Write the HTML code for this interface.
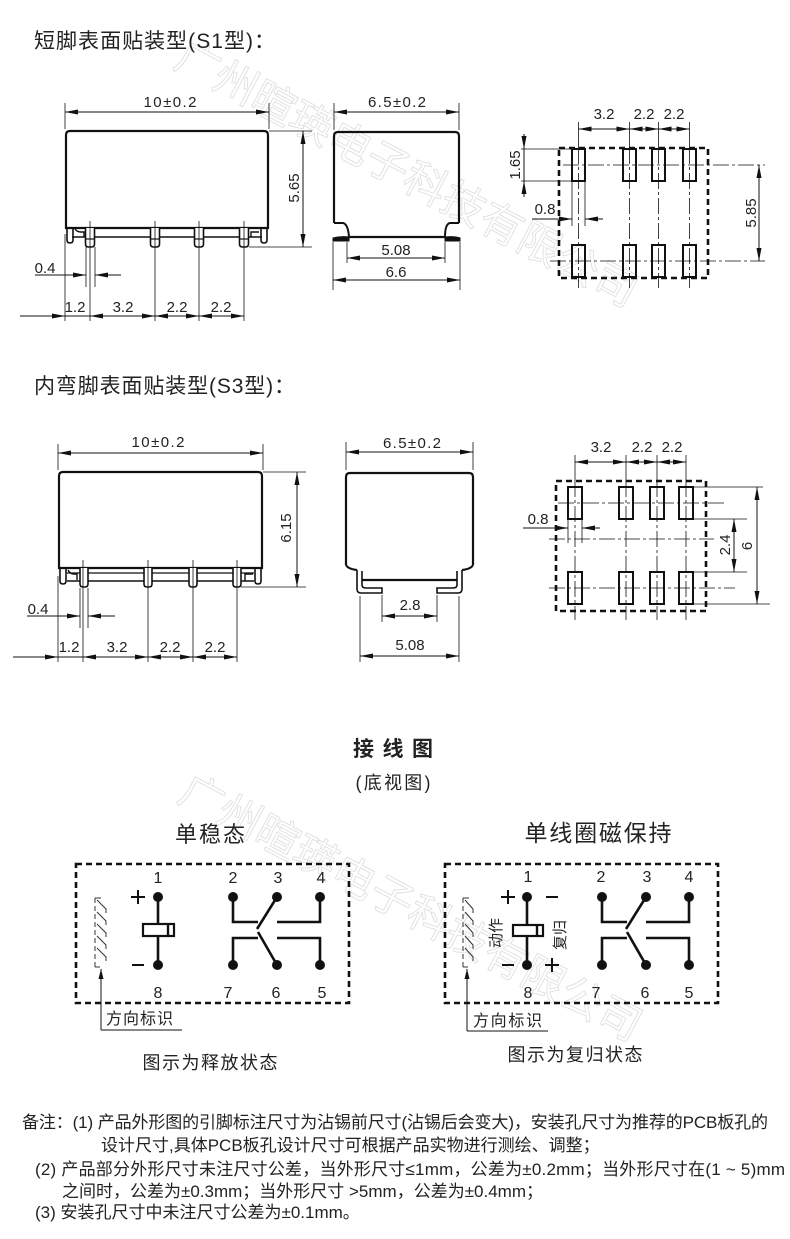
<!DOCTYPE html>
<html><head><meta charset="utf-8">
<style>
html,body{margin:0;padding:0;background:#fff;}
svg{display:block;}
text{font-family:"Liberation Sans","Noto Sans CJK SC",sans-serif;fill:#222;}
</style></head><body>
<svg width="790" height="1239" viewBox="0 0 790 1239" xmlns="http://www.w3.org/2000/svg">
<defs>
<marker id="a" viewBox="0 0 13 5" refX="13" refY="2.5" markerWidth="13" markerHeight="5" markerUnits="userSpaceOnUse" orient="auto-start-reverse"><path d="M0,0 L13,2.5 L0,5 z" fill="#111"/></marker>
<marker id="b" viewBox="0 0 10 5" refX="10" refY="2.5" markerWidth="10" markerHeight="5" markerUnits="userSpaceOnUse" orient="auto-start-reverse"><path d="M0,0 L10,2.5 L0,5 z" fill="#111"/></marker>
</defs>

<!-- watermark -->
<text transform="translate(172,66) rotate(28)" font-size="43" style="fill:none;stroke:#e0e0e0;stroke-width:0.9">广州暄瑛电子科技有限公司</text>
<text transform="translate(176,800) rotate(28)" font-size="43" style="fill:none;stroke:#e0e0e0;stroke-width:0.9">广州暄瑛电子科技有限公司</text>

<!-- headings -->
<text x="34" y="48" font-size="21" textLength="241">短脚表面贴装型(S1型)：</text>
<text x="34" y="393" font-size="21" textLength="261">内弯脚表面贴装型(S3型)：</text>

<!-- ================= S1 SIDE VIEW ================= -->
<g stroke="#111" fill="none" stroke-width="1">
  <line x1="65" y1="103" x2="65" y2="129" stroke-width="0.8"/>
  <line x1="269" y1="103" x2="269" y2="129" stroke-width="0.8"/>
  <line x1="65" y1="112" x2="269" y2="112" marker-start="url(#a)" marker-end="url(#a)"/>
  <path d="M66,228 L66,135 Q66,131 70,131 L264,131 Q268,131 268,135 L268,228 Z" stroke-width="2.2"/>
  <line x1="72" y1="237" x2="262" y2="237" stroke-width="1.6"/>
  <path d="M67,228 L67,240 Q67,243 70,243 Q73,243 73,240 L73,229" stroke-width="1.6"/>
  <path d="M75,229 Q77,232 81,232 L84,232 L84,237" stroke-width="1.4"/>
  <path d="M267,228 L267,240 Q267,243 264,243 Q261,243 261,240 L261,229" stroke-width="1.6"/>
  <path d="M251,237 L251,232 L259,232" stroke-width="1.4"/>
  <g transform="translate(90,0)"><path d="M-4.5,228 L-4.5,244 Q-4.5,247 -1.5,247 L1.5,247 Q4.5,247 4.5,244 L4.5,228" fill="#fff" stroke-width="1.6"/><line x1="-4.5" y1="239" x2="4.5" y2="239" stroke-width="1.2"/></g>
  <g transform="translate(155,0)"><path d="M-4.5,228 L-4.5,244 Q-4.5,247 -1.5,247 L1.5,247 Q4.5,247 4.5,244 L4.5,228" fill="#fff" stroke-width="1.6"/><line x1="-4.5" y1="239" x2="4.5" y2="239" stroke-width="1.2"/></g>
  <g transform="translate(199,0)"><path d="M-4.5,228 L-4.5,244 Q-4.5,247 -1.5,247 L1.5,247 Q4.5,247 4.5,244 L4.5,228" fill="#fff" stroke-width="1.6"/><line x1="-4.5" y1="239" x2="4.5" y2="239" stroke-width="1.2"/></g>
  <g transform="translate(244,0)"><path d="M-4.5,228 L-4.5,244 Q-4.5,247 -1.5,247 L1.5,247 Q4.5,247 4.5,244 L4.5,228" fill="#fff" stroke-width="1.6"/><line x1="-4.5" y1="239" x2="4.5" y2="239" stroke-width="1.2"/></g>
  <!-- extension lines -->
  <g stroke-width="0.8">
    <line x1="65" y1="234" x2="65" y2="321"/>
    <line x1="90" y1="221" x2="90" y2="321"/>
    <line x1="155" y1="221" x2="155" y2="321"/>
    <line x1="199" y1="221" x2="199" y2="321"/>
    <line x1="244" y1="221" x2="244" y2="321"/>
    <line x1="86" y1="247" x2="86" y2="287"/>
    <line x1="95" y1="247" x2="95" y2="287"/>
    <line x1="269" y1="131" x2="312" y2="131"/>
    <line x1="249" y1="247" x2="312" y2="247"/>
  </g>
  <line x1="35" y1="275" x2="86" y2="275" marker-end="url(#a)"/>
  <line x1="121" y1="275" x2="95" y2="275" marker-end="url(#a)"/>
  <line x1="20" y1="316" x2="65" y2="316" marker-end="url(#a)"/>
  <line x1="65" y1="316" x2="90" y2="316"/>
  <line x1="90" y1="316" x2="155" y2="316" marker-start="url(#a)" marker-end="url(#a)"/>
  <line x1="155" y1="316" x2="199" y2="316" marker-start="url(#a)" marker-end="url(#a)"/>
  <line x1="199" y1="316" x2="244" y2="316" marker-start="url(#a)" marker-end="url(#a)"/>
  <line x1="303" y1="131" x2="303" y2="247" marker-start="url(#a)" marker-end="url(#a)"/>
</g>
<g font-size="15" text-anchor="middle">
  <text x="170" y="107" textLength="53">10±0.2</text>
  <text x="45" y="273">0.4</text>
  <text x="75" y="312">1.2</text>
  <text x="123" y="312">3.2</text>
  <text x="177" y="312">2.2</text>
  <text x="221" y="312">2.2</text>
  <text transform="translate(299,188) rotate(-90)">5.65</text>
</g>

<!-- ================= S1 END VIEW ================= -->
<g stroke="#111" fill="none" stroke-width="1">
  <line x1="334" y1="103" x2="334" y2="130" stroke-width="0.8"/>
  <line x1="459" y1="103" x2="459" y2="130" stroke-width="0.8"/>
  <line x1="334" y1="112" x2="459" y2="112" marker-start="url(#a)" marker-end="url(#a)"/>
  <path d="M334,223 L334,136 Q334,132 338,132 L455,132 Q459,132 459,136 L459,223" stroke-width="2.2"/>
  <path d="M334,223 L343,223 Q348,224 349,237" stroke-width="2"/>
  <path d="M459,223 L450,223 Q445,224 445,237" stroke-width="2"/>
  <line x1="349" y1="237" x2="445" y2="237" stroke-width="2.2"/>
  <path d="M349,237 Q340,236 333,238 L333,241 L349,241 Z" fill="#111"/>
  <path d="M445,237 Q454,236 460,238 L460,241 L445,241 Z" fill="#111"/>
  <g stroke-width="0.8">
    <line x1="347" y1="242" x2="347" y2="263"/>
    <line x1="445" y1="242" x2="445" y2="263"/>
    <line x1="333" y1="242" x2="333" y2="290"/>
    <line x1="460" y1="242" x2="460" y2="290"/>
  </g>
  <line x1="347" y1="258" x2="445" y2="258" marker-start="url(#a)" marker-end="url(#a)"/>
  <line x1="333" y1="280" x2="460" y2="280" marker-start="url(#a)" marker-end="url(#a)"/>
</g>
<g font-size="15" text-anchor="middle">
  <text x="397" y="107" textLength="58">6.5±0.2</text>
  <text x="396" y="255">5.08</text>
  <text x="396" y="277">6.6</text>
</g>

<!-- ================= S1 FOOTPRINT ================= -->
<g stroke="#111" fill="none" stroke-width="1">
  <g stroke-width="0.8">
    <line x1="578.5" y1="122" x2="578.5" y2="148"/>
    <line x1="629.5" y1="122" x2="629.5" y2="148"/>
    <line x1="658.5" y1="122" x2="658.5" y2="148"/>
    <line x1="689.5" y1="122" x2="689.5" y2="148"/>
    <line x1="578.5" y1="278" x2="578.5" y2="288"/>
    <line x1="629.5" y1="278" x2="629.5" y2="288"/>
    <line x1="658.5" y1="278" x2="658.5" y2="288"/>
    <line x1="689.5" y1="278" x2="689.5" y2="288"/>
  </g>
  <g stroke-width="0.8" stroke-dasharray="16,3,3,3">
    <line x1="578.5" y1="148" x2="578.5" y2="278"/>
    <line x1="629.5" y1="148" x2="629.5" y2="278"/>
    <line x1="658.5" y1="148" x2="658.5" y2="278"/>
    <line x1="689.5" y1="148" x2="689.5" y2="278"/>
    <line x1="563" y1="165" x2="765" y2="165"/>
    <line x1="550" y1="261" x2="765" y2="261"/>
  </g>
  <rect x="559" y="148" width="149" height="130" stroke-width="2.6" stroke-dasharray="6,4"/>
  <g stroke-width="2">
    <rect x="572" y="149" width="13" height="32"/>
    <rect x="623" y="149" width="13" height="32"/>
    <rect x="652" y="149" width="13" height="32"/>
    <rect x="683" y="149" width="13" height="32"/>
    <rect x="572" y="245" width="13" height="32"/>
    <rect x="623" y="245" width="13" height="32"/>
    <rect x="652" y="245" width="13" height="32"/>
    <rect x="683" y="245" width="13" height="32"/>
  </g>
  <line x1="578.5" y1="129" x2="629.5" y2="129" marker-start="url(#a)" marker-end="url(#a)"/>
  <line x1="629.5" y1="129" x2="658.5" y2="129" marker-start="url(#a)" marker-end="url(#a)"/>
  <line x1="658.5" y1="129" x2="689.5" y2="129" marker-start="url(#a)" marker-end="url(#a)"/>
  <line x1="759" y1="165" x2="759" y2="261" marker-start="url(#a)" marker-end="url(#a)"/>
  <g stroke-width="0.8">
    <line x1="521" y1="149" x2="572" y2="149"/>
    <line x1="521" y1="181" x2="572" y2="181"/>
    <line x1="572" y1="181" x2="572" y2="226"/>
    <line x1="585" y1="181" x2="585" y2="226"/>
  </g>
  <line x1="524" y1="134" x2="524" y2="197"/>
  <line x1="524" y1="134" x2="524" y2="149" marker-end="url(#a)"/>
  <line x1="524" y1="197" x2="524" y2="181" marker-end="url(#a)"/>
  <line x1="532" y1="219" x2="572" y2="219" marker-end="url(#a)"/>
  <line x1="603" y1="219" x2="585" y2="219" marker-end="url(#a)"/>
</g>
<g font-size="15" text-anchor="middle">
  <text x="604" y="119">3.2</text>
  <text x="644" y="119">2.2</text>
  <text x="674" y="119">2.2</text>
  <text x="545" y="214">0.8</text>
  <text transform="translate(520,165) rotate(-90)">1.65</text>
  <text transform="translate(756,213) rotate(-90)">5.85</text>
</g>

<!-- ================= S3 SIDE VIEW ================= -->
<g stroke="#111" fill="none" stroke-width="1">
  <line x1="58" y1="444" x2="58" y2="470" stroke-width="0.8"/>
  <line x1="263" y1="444" x2="263" y2="470" stroke-width="0.8"/>
  <line x1="58" y1="453" x2="263" y2="453" marker-start="url(#a)" marker-end="url(#a)"/>
  <path d="M59,568 L59,476 Q59,472 63,472 L258,472 Q262,472 262,476 L262,568 Z" stroke-width="2.2"/>
  <line x1="67" y1="573" x2="254" y2="573" stroke-width="1.3"/>
  <line x1="67" y1="581" x2="254" y2="581" stroke-width="1.6"/>
  <path d="M60,568 L60,581 Q60,584 63,584 Q66,584 66,581 L66,569" stroke-width="1.6"/>
  <path d="M68,570 Q70,574 74,574 L77,574 L77,580" stroke-width="1.4"/>
  <path d="M261,568 L261,581 Q261,584 258,584 Q255,584 255,581 L255,569" stroke-width="1.6"/>
  <path d="M245,581 L245,574 L253,574" stroke-width="1.4"/>
  <g transform="translate(84,0)"><path d="M-4,568 L-4,584 Q-4,587 -1,587 L1,587 Q4,587 4,584 L4,568" fill="#fff" stroke-width="1.6"/></g>
  <g transform="translate(148,0)"><path d="M-4,568 L-4,584 Q-4,587 -1,587 L1,587 Q4,587 4,584 L4,568" fill="#fff" stroke-width="1.6"/></g>
  <g transform="translate(193,0)"><path d="M-4,568 L-4,584 Q-4,587 -1,587 L1,587 Q4,587 4,584 L4,568" fill="#fff" stroke-width="1.6"/></g>
  <g transform="translate(237,0)"><path d="M-4,568 L-4,584 Q-4,587 -1,587 L1,587 Q4,587 4,584 L4,568" fill="#fff" stroke-width="1.6"/></g>
  <g stroke-width="0.8">
    <line x1="58" y1="576" x2="58" y2="662"/>
    <line x1="83" y1="560" x2="83" y2="662"/>
    <line x1="148" y1="560" x2="148" y2="662"/>
    <line x1="193" y1="560" x2="193" y2="662"/>
    <line x1="237" y1="560" x2="237" y2="662"/>
    <line x1="80" y1="588" x2="80" y2="628"/>
    <line x1="88" y1="588" x2="88" y2="628"/>
    <line x1="263" y1="472" x2="306" y2="472"/>
    <line x1="241" y1="587" x2="306" y2="587"/>
  </g>
  <line x1="27" y1="616" x2="80" y2="616" marker-end="url(#a)"/>
  <line x1="115" y1="616" x2="88" y2="616" marker-end="url(#a)"/>
  <line x1="13" y1="657" x2="58" y2="657" marker-end="url(#a)"/>
  <line x1="58" y1="657" x2="83" y2="657"/>
  <line x1="83" y1="657" x2="148" y2="657" marker-start="url(#a)" marker-end="url(#a)"/>
  <line x1="148" y1="657" x2="193" y2="657" marker-start="url(#a)" marker-end="url(#a)"/>
  <line x1="193" y1="657" x2="237" y2="657" marker-start="url(#a)" marker-end="url(#a)"/>
  <line x1="297" y1="472" x2="297" y2="587" marker-start="url(#a)" marker-end="url(#a)"/>
</g>
<g font-size="15" text-anchor="middle">
  <text x="158" y="447" textLength="53">10±0.2</text>
  <text x="38" y="614">0.4</text>
  <text x="69" y="652">1.2</text>
  <text x="117" y="652">3.2</text>
  <text x="170" y="652">2.2</text>
  <text x="215" y="652">2.2</text>
  <text transform="translate(291,528) rotate(-90)">6.15</text>
</g>

<!-- ================= S3 END VIEW ================= -->
<g stroke="#111" fill="none" stroke-width="1">
  <line x1="346" y1="442" x2="346" y2="470" stroke-width="0.8"/>
  <line x1="473" y1="442" x2="473" y2="470" stroke-width="0.8"/>
  <line x1="346" y1="452" x2="473" y2="452" marker-start="url(#a)" marker-end="url(#a)"/>
  <path d="M346,565 L346,477 Q346,473 350,473 L469,473 Q473,473 473,477 L473,565" stroke-width="2.2"/>
  <path d="M346,565 Q348,569 357,570" stroke-width="2"/>
  <path d="M473,565 Q471,569 462,570" stroke-width="2"/>
  <path d="M357,570 L357,589 Q357,593 361,593 L382,593 L382,588 L366,588 Q362,588 362,585 L362,571" stroke-width="1.6"/>
  <path d="M462,570 L462,589 Q462,593 458,593 L437,593 L437,588 L453,588 Q457,588 457,585 L457,571" stroke-width="1.6"/>
  <line x1="362" y1="580" x2="457" y2="580" stroke-width="2.2"/>
  <g stroke-width="0.8">
    <line x1="360" y1="596" x2="360" y2="662"/>
    <line x1="459" y1="596" x2="459" y2="662"/>
    <line x1="382" y1="595" x2="382" y2="622"/>
    <line x1="437" y1="595" x2="437" y2="622"/>
  </g>
  <line x1="382" y1="616" x2="437" y2="616" marker-start="url(#a)" marker-end="url(#a)"/>
  <line x1="360" y1="656" x2="459" y2="656" marker-start="url(#a)" marker-end="url(#a)"/>
</g>
<g font-size="15" text-anchor="middle">
  <text x="412" y="448" textLength="58">6.5±0.2</text>
  <text x="410" y="610">2.8</text>
  <text x="410" y="650">5.08</text>
</g>

<!-- ================= S3 FOOTPRINT ================= -->
<g stroke="#111" fill="none" stroke-width="1">
  <g stroke-width="0.8">
    <line x1="575" y1="455" x2="575" y2="481"/>
    <line x1="626" y1="455" x2="626" y2="481"/>
    <line x1="657" y1="455" x2="657" y2="481"/>
    <line x1="686" y1="455" x2="686" y2="481"/>
    <line x1="575" y1="611" x2="575" y2="620"/>
    <line x1="626" y1="611" x2="626" y2="620"/>
    <line x1="657" y1="611" x2="657" y2="620"/>
    <line x1="686" y1="611" x2="686" y2="620"/>
  </g>
  <g stroke-width="0.8" stroke-dasharray="16,3,3,3">
    <line x1="575" y1="481" x2="575" y2="611"/>
    <line x1="626" y1="481" x2="626" y2="611"/>
    <line x1="657" y1="481" x2="657" y2="611"/>
    <line x1="686" y1="481" x2="686" y2="611"/>
    <line x1="558" y1="503" x2="724" y2="503"/>
    <line x1="549" y1="539" x2="714" y2="539"/>
    <line x1="549" y1="588" x2="735" y2="588"/>
  </g>
  <rect x="556" y="481" width="150" height="130" stroke-width="2.6" stroke-dasharray="6,4"/>
  <g stroke-width="2">
    <rect x="568" y="487" width="14" height="32"/>
    <rect x="619" y="487" width="14" height="32"/>
    <rect x="650" y="487" width="14" height="32"/>
    <rect x="679" y="487" width="14" height="32"/>
    <rect x="568" y="572" width="14" height="32"/>
    <rect x="619" y="572" width="14" height="32"/>
    <rect x="650" y="572" width="14" height="32"/>
    <rect x="679" y="572" width="14" height="32"/>
  </g>
  <line x1="575" y1="462" x2="626" y2="462" marker-start="url(#a)" marker-end="url(#a)"/>
  <line x1="626" y1="462" x2="657" y2="462" marker-start="url(#a)" marker-end="url(#a)"/>
  <line x1="657" y1="462" x2="686" y2="462" marker-start="url(#a)" marker-end="url(#a)"/>
  <g stroke-width="0.8">
    <line x1="693" y1="519" x2="747" y2="519"/>
    <line x1="693" y1="572" x2="747" y2="572"/>
    <line x1="693" y1="487" x2="763" y2="487"/>
    <line x1="693" y1="604" x2="770" y2="604"/>
    <line x1="568" y1="519" x2="568" y2="543"/>
    <line x1="582" y1="519" x2="582" y2="543"/>
  </g>
  <line x1="734" y1="519" x2="734" y2="572" marker-start="url(#a)" marker-end="url(#a)"/>
  <line x1="757" y1="487" x2="757" y2="604" marker-start="url(#a)" marker-end="url(#a)"/>
  <line x1="523" y1="528" x2="568" y2="528" marker-end="url(#a)"/>
  <line x1="600" y1="528" x2="582" y2="528" marker-end="url(#a)"/>
</g>
<g font-size="15" text-anchor="middle">
  <text x="601" y="452">3.2</text>
  <text x="642" y="452">2.2</text>
  <text x="672" y="452">2.2</text>
  <text x="538" y="524">0.8</text>
  <text transform="translate(730,545) rotate(-90)">2.4</text>
  <text transform="translate(752,546) rotate(-90)">6</text>
</g>

<!-- ================= WIRING TITLES ================= -->
<text x="393" y="756" font-size="21" font-weight="bold" text-anchor="middle" textLength="80">接线图</text>
<text x="393" y="789" font-size="18" text-anchor="middle" textLength="75">(底视图)</text>
<text x="210" y="842" font-size="22" text-anchor="middle" textLength="70">单稳态</text>
<text x="598" y="841" font-size="23" text-anchor="middle" textLength="147">单线圈磁保持</text>

<!-- ================= WIRING LEFT (and right via translate) ================= -->
<g id="wl">
  <rect x="76" y="864" width="273" height="139" fill="none" stroke="#111" stroke-width="2.6" stroke-dasharray="6,4"/>
  <g stroke="#111" stroke-width="2.6" fill="none">
    <path d="M233,897 L233,922 L258,922"/>
    <path d="M277,897 L257,929"/>
    <path d="M233,965 L233,938 L258,938"/>
    <path d="M258,932 L277,965"/>
    <path d="M320,897 L320,922 L277,922"/>
    <path d="M320,965 L320,938 L277,938"/>
    <line x1="158" y1="897" x2="158" y2="965"/>
  </g>
  <rect x="143" y="924" width="31" height="12" fill="#fff" stroke="#111" stroke-width="2.2"/>
  <line x1="168" y1="924" x2="168" y2="936" stroke="#111" stroke-width="2.4"/>
  <g fill="#111">
    <circle cx="158" cy="897" r="5"/><circle cx="233" cy="897" r="5"/><circle cx="277" cy="897" r="5"/><circle cx="320" cy="897" r="5"/>
    <circle cx="158" cy="965" r="5"/><circle cx="233" cy="965" r="5"/><circle cx="277" cy="965" r="5"/><circle cx="320" cy="965" r="5"/>
  </g>
  <g font-size="16" text-anchor="middle">
    <text x="158" y="883">1</text><text x="233" y="883">2</text><text x="278" y="883">3</text><text x="321" y="883">4</text>
    <text x="158" y="998">8</text><text x="228" y="998">7</text><text x="276" y="998">6</text><text x="322" y="998">5</text>
  </g>
  <g stroke="#333" stroke-width="1" fill="none">
    <path d="M95,898 L95,967" stroke-dasharray="5,3"/>
    <path d="M95,898 L101,898"/>
    <path d="M97,900 L106,909 L106,913"/>
    <path d="M97,912 L106,921 L106,925"/>
    <path d="M97,924 L106,933 L106,937"/>
    <path d="M97,936 L106,945 L106,949"/>
    <path d="M97,948 L106,957 L106,961"/>
    <path d="M95,967 L100,967"/>
  </g>
  <line x1="101" y1="1030" x2="101" y2="969" stroke="#111" stroke-width="1" marker-end="url(#b)"/>
  <line x1="101" y1="1030" x2="182" y2="1030" stroke="#111" stroke-width="1"/>
  <text x="106" y="1024" font-size="16" textLength="67">方向标识</text>
</g>
<!-- + / - left -->
<g stroke="#111" stroke-width="2">
  <line x1="131" y1="897" x2="145" y2="897"/><line x1="138" y1="890" x2="138" y2="904"/>
  <line x1="132" y1="965" x2="144" y2="965"/>
</g>
<text x="210" y="1069" font-size="18" text-anchor="middle" textLength="135">图示为释放状态</text>

<!-- right diagram -->
<g transform="translate(369,0)">
  <rect x="76" y="864" width="273" height="139" fill="none" stroke="#111" stroke-width="2.6" stroke-dasharray="6,4"/>
  <g stroke="#111" stroke-width="2.6" fill="none">
    <path d="M233,897 L233,922 L258,922"/>
    <path d="M277,897 L257,929"/>
    <path d="M233,965 L233,938 L258,938"/>
    <path d="M258,932 L277,965"/>
    <path d="M320,897 L320,922 L277,922"/>
    <path d="M320,965 L320,938 L277,938"/>
    <line x1="158" y1="897" x2="158" y2="965"/>
  </g>
  <rect x="144" y="925" width="30" height="11" fill="#fff" stroke="#111" stroke-width="2.2"/>
  <line x1="168" y1="925" x2="168" y2="936" stroke="#111" stroke-width="2.4"/>
  <g fill="#111">
    <circle cx="158" cy="897" r="5"/><circle cx="233" cy="897" r="5"/><circle cx="277" cy="897" r="5"/><circle cx="320" cy="897" r="5"/>
    <circle cx="158" cy="965" r="5"/><circle cx="233" cy="965" r="5"/><circle cx="277" cy="965" r="5"/><circle cx="320" cy="965" r="5"/>
  </g>
  <g font-size="16" text-anchor="middle">
    <text x="159" y="882">1</text><text x="232" y="882">2</text><text x="278" y="882">3</text><text x="320" y="882">4</text>
    <text x="159" y="998">8</text><text x="227" y="998">7</text><text x="276" y="998">6</text><text x="320" y="998">5</text>
  </g>
  <g stroke="#333" stroke-width="1" fill="none">
    <path d="M94,898 L94,967" stroke-dasharray="5,3"/>
    <path d="M94,898 L100,898"/>
    <path d="M96,900 L104,909 L104,913"/>
    <path d="M96,912 L104,921 L104,925"/>
    <path d="M96,924 L104,933 L104,937"/>
    <path d="M96,936 L104,945 L104,949"/>
    <path d="M96,948 L104,957 L104,961"/>
    <path d="M94,967 L99,967"/>
  </g>
  <line x1="98" y1="1031" x2="98" y2="969" stroke="#111" stroke-width="1" marker-end="url(#b)"/>
  <line x1="98" y1="1031" x2="179" y2="1031" stroke="#111" stroke-width="1"/>
  <text x="104" y="1026" font-size="16" textLength="69">方向标识</text>
</g>
<g stroke="#111" stroke-width="2">
  <line x1="501" y1="897" x2="515" y2="897"/><line x1="508" y1="890" x2="508" y2="904"/>
  <line x1="546" y1="897" x2="558" y2="897"/>
  <line x1="502" y1="965" x2="514" y2="965"/>
  <line x1="545" y1="965" x2="559" y2="965"/><line x1="552" y1="958" x2="552" y2="972"/>
</g>
<text transform="translate(501,933) rotate(-90)" font-size="15" text-anchor="middle">动作</text>
<text transform="translate(565,935) rotate(-90)" font-size="15" text-anchor="middle">复归</text>
<text x="575" y="1061" font-size="18" text-anchor="middle" textLength="135">图示为复归状态</text>

<!-- ================= NOTES ================= -->
<g font-size="17">
  <text x="22" y="1128" textLength="746">备注：(1) 产品外形图的引脚标注尺寸为沾锡前尺寸(沾锡后会变大)，安装孔尺寸为推荐的PCB板孔的</text>
  <text x="101" y="1151">设计尺寸,具体PCB板孔设计尺寸可根据产品实物进行测绘、调整；</text>
  <text x="35" y="1175" textLength="750">(2) 产品部分外形尺寸未注尺寸公差，当外形尺寸≤1mm，公差为±0.2mm；当外形尺寸在(1 ~ 5)mm</text>
  <text x="62" y="1197">之间时，公差为±0.3mm；当外形尺寸 &gt;5mm，公差为±0.4mm；</text>
  <text x="35" y="1218">(3) 安装孔尺寸中未注尺寸公差为±0.1mm。</text>
</g>
</svg>
</body></html>
